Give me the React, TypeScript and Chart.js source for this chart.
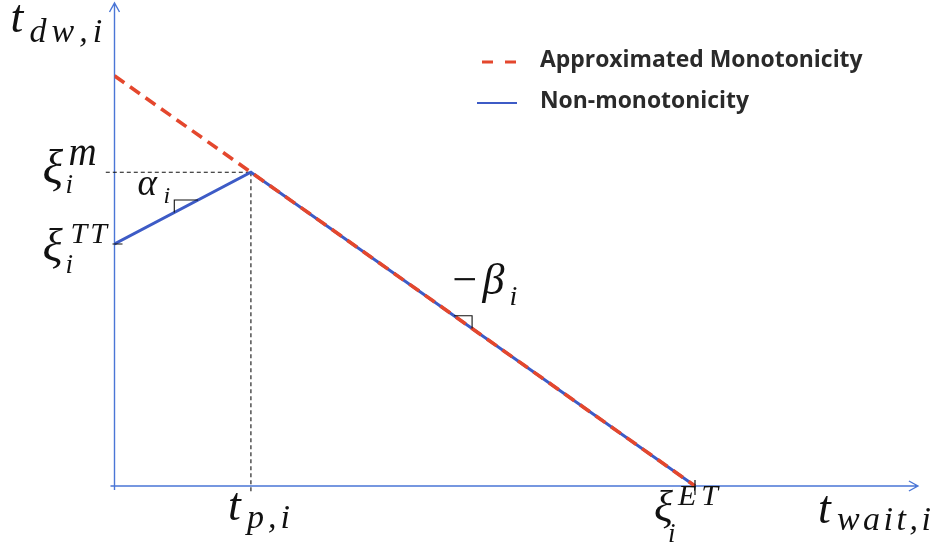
import { useEffect, useRef } from 'react';
import { Chart, registerables } from 'chart.js';

Chart.register(...registerables);

// Series
const seriesNames = ['Approximated Monotonicity', 'Non-monotonicity'];
const approxX = [0, 10];
const approxY = [10, 0];
const nonMonoX = [0, 2.35, 10];
const nonMonoY = [5.9, 7.65, 0];

// Key points on the axes
const tP = 2.35;
const xiM = 7.65;
const xiTT = 5.9;
const xiET = 10;

// Axis extents
const xMax = 14;
const yMax = 11.8;
const xArrowEnd = 13.84;

// Slope markers (x-runs along the two segments)
const alphaRun = [1.03, 1.44];
const betaRun = [5.85, 6.16];

const MATH = '"Liberation Serif", serif';
const LEGEND_FONT = '"Open Sans", sans-serif';
const AXIS_BLUE = '#4a76d6';
const RED = '#e4472d';
const BLUE = '#3d5bc6';

const toPts = (xs: number[], ys: number[]) => xs.map((x, i) => ({ x, y: ys[i] }));

const decor = {
  id: 'decor',
  beforeDatasetsDraw(chart: any) {
    const { ctx, scales } = chart;
    const xs = scales.x;
    const ys = scales.y;
    const x0 = xs.getPixelForValue(0);
    const y0 = ys.getPixelForValue(0);
    const xEnd = xs.getPixelForValue(xArrowEnd);
    const yEnd = ys.getPixelForValue(yMax) + 1;
    ctx.save();
    ctx.strokeStyle = AXIS_BLUE;
    ctx.lineWidth = 1.4;
    ctx.beginPath();
    ctx.moveTo(x0, y0 + 4);
    ctx.lineTo(x0, yEnd);
    ctx.moveTo(x0 - 4, y0);
    ctx.lineTo(xEnd, y0);
    // arrowheads
    ctx.moveTo(x0 - 5, yEnd + 9);
    ctx.lineTo(x0, yEnd);
    ctx.lineTo(x0 + 5, yEnd + 9);
    ctx.moveTo(xEnd - 9, y0 - 5);
    ctx.lineTo(xEnd, y0);
    ctx.lineTo(xEnd - 9, y0 + 5);
    ctx.stroke();
    ctx.restore();
  },
  afterDraw(chart: any) {
    const { ctx, scales } = chart;
    const xs = scales.x;
    const ys = scales.y;
    const px = (v: number) => xs.getPixelForValue(v);
    const py = (v: number) => ys.getPixelForValue(v);
    const x0 = px(0);
    const y0 = py(0);

    ctx.save();
    // tick marks
    ctx.strokeStyle = '#111';
    ctx.lineWidth = 1.2;
    ctx.beginPath();
    ctx.moveTo(x0 - 2, py(xiTT));
    ctx.lineTo(x0 + 8, py(xiTT));
    ctx.moveTo(px(xiET), y0 - 6);
    ctx.lineTo(px(xiET), y0 + 9);
    ctx.stroke();

    // slope triangles
    const alphaSlope = (nonMonoY[1] - nonMonoY[0]) / (nonMonoX[1] - nonMonoX[0]);
    const fA = (x: number) => nonMonoY[0] + alphaSlope * (x - nonMonoX[0]);
    const betaSlope = (nonMonoY[2] - nonMonoY[1]) / (nonMonoX[2] - nonMonoX[1]);
    const fB = (x: number) => nonMonoY[1] + betaSlope * (x - nonMonoX[1]);
    ctx.lineWidth = 1.1;
    ctx.beginPath();
    ctx.moveTo(px(alphaRun[1]), py(fA(alphaRun[1])));
    ctx.lineTo(px(alphaRun[0]), py(fA(alphaRun[1])));
    ctx.lineTo(px(alphaRun[0]), py(fA(alphaRun[0])));
    ctx.moveTo(px(betaRun[0]), py(fB(betaRun[0])));
    ctx.lineTo(px(betaRun[1]), py(fB(betaRun[0])));
    ctx.lineTo(px(betaRun[1]), py(fB(betaRun[1])));
    ctx.stroke();

    // math labels, set glyph by glyph with extra tracking
    ctx.fillStyle = '#111';
    ctx.textBaseline = 'alphabetic';
    ctx.textAlign = 'left';
    const txt = (s: string, x: number, y: number, size: number, sp = 0) => {
      ctx.font = `italic ${size}px ${MATH}`;
      let cx = x;
      for (const ch of s) {
        ctx.fillText(ch, cx, y);
        cx += ctx.measureText(ch).width + sp;
      }
    };
    // y-axis title
    txt('t', x0 - 104, 32, 46);
    txt('dw,i', x0 - 85, 42, 34, 5);
    // x-axis title
    const xa = px(xArrowEnd);
    txt('t', xa - 100, 523, 46);
    txt('wait,i', xa - 81, 530, 34, 3.5);
    // xi^m
    const yM = py(xiM);
    txt('ξ', x0 - 72, yM + 11, 48);
    txt('m', x0 - 46, yM - 7, 39);
    txt('i', x0 - 49, yM + 21, 27);
    // xi^TT
    const yT = py(xiTT);
    txt('ξ', x0 - 72, yT + 17, 47);
    txt('TT', x0 - 44, yT - 1, 30, 3);
    txt('i', x0 - 49, yT + 29, 27);
    // t_p,i
    const xp = px(tP);
    txt('t', xp - 23, y0 + 34, 46);
    txt('p,i', xp - 4, y0 + 42, 34, 4);
    // xi^ET
    const xe = px(xiET);
    txt('ξ', xe - 41, y0 + 35, 44);
    txt('ET', xe - 17, y0 + 19, 30, 5);
    txt('i', xe - 27, y0 + 56, 27);
    // alpha_i
    txt('α', x0 + 23, 195, 37);
    txt('i', x0 + 49, 203, 24);
    // -beta_i
    txt('−', x0 + 335, 294, 44);
    txt('β', x0 + 368, 294, 44);
    txt('i', x0 + 395, 305, 28);

    // legend
    ctx.strokeStyle = RED;
    ctx.lineWidth = 3;
    ctx.setLineDash([11, 12]);
    ctx.beginPath();
    ctx.moveTo(482, 62);
    ctx.lineTo(517, 62);
    ctx.stroke();
    ctx.setLineDash([]);
    ctx.strokeStyle = BLUE;
    ctx.lineWidth = 2.2;
    ctx.beginPath();
    ctx.moveTo(477, 103);
    ctx.lineTo(517, 103);
    ctx.stroke();
    ctx.fillStyle = '#2a2a2a';
    ctx.font = `bold 22.9px ${LEGEND_FONT}`;
    ctx.fillText(seriesNames[0], 540, 67);
    ctx.fillText(seriesNames[1], 540, 108);
    ctx.restore();
  },
};

export default function App() {
  const canvasRef = useRef<HTMLCanvasElement | null>(null);

  useEffect(() => {
    const canvas = canvasRef.current;
    if (!canvas) return;
    const chart = new Chart(canvas, {
      type: 'line',
      data: {
        datasets: [
          {
            label: seriesNames[0],
            data: toPts(approxX, approxY),
            borderColor: RED,
            borderWidth: 3.6,
            borderDash: [12, 7],
            pointRadius: 0,
            fill: false,
            order: 1,
          },
          {
            label: seriesNames[1],
            data: toPts(nonMonoX, nonMonoY),
            borderColor: BLUE,
            borderWidth: 3,
            pointRadius: 0,
            fill: false,
            order: 2,
          },
          {
            label: 'guide-h',
            data: [{ x: -0.15, y: xiM }, { x: tP, y: xiM }],
            borderColor: '#111',
            borderWidth: 1.1,
            borderDash: [4, 3],
            pointRadius: 0,
            clip: false,
            order: 3,
          },
          {
            label: 'guide-v',
            data: [{ x: tP, y: xiM }, { x: tP, y: -0.17 }],
            borderColor: '#111',
            borderWidth: 1.1,
            borderDash: [4, 3],
            pointRadius: 0,
            clip: false,
            order: 3,
          },
        ],
      },
      options: {
        responsive: false,
        animation: false,
        devicePixelRatio: 1,
        layout: { padding: { left: 114.5, right: 15.8, top: 2, bottom: 64 } },
        scales: {
          x: { type: 'linear', min: 0, max: xMax, display: false },
          y: { type: 'linear', min: 0, max: yMax, display: false },
        },
        plugins: {
          legend: { display: false },
          tooltip: { enabled: false },
        },
      },
      plugins: [decor],
    });
    return () => chart.destroy();
  }, []);

  return (
    <div style={{ position: 'absolute', left: 0, top: 0, width: 943, height: 550, background: '#fff' }}>
      <canvas ref={canvasRef} width={943} height={550} />
    </div>
  );
}
